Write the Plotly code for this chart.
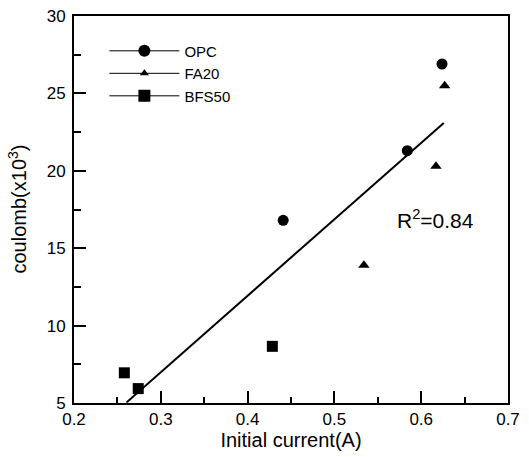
import numpy as np
import plotly.graph_objects as go

# Data
opc_x = [0.441, 0.584, 0.624]
opc_y = [16.8, 21.3, 26.9]
fa20_x = [0.534, 0.617, 0.627]
fa20_y = [13.9, 20.3, 25.5]
bfs50_x = [0.258, 0.274, 0.4285]
bfs50_y = [6.95, 5.93, 8.66]
fit_range = [0.2605, 0.626]
r2_label = "R<sup>2</sup>=0.84"
x_title = "Initial current(A)"
y_title = "coulomb(x10<sup>3</sup>)"

all_x = np.array(opc_x + fa20_x + bfs50_x)
all_y = np.array(opc_y + fa20_y + bfs50_y)
slope, intercept = np.polyfit(all_x, all_y, 1)
fit_x = np.array(fit_range)
fit_y = slope * fit_x + intercept

FONT = "Liberation Sans, Arial, sans-serif"

fig = go.Figure()
series = [
    ("OPC", opc_x, opc_y, "circle", 11, 12),
    ("FA20", fa20_x, fa20_y, "triangle-up", 10, 8),
    ("BFS50", bfs50_x, bfs50_y, "square", 11, 12),
]
for name, xs, ys, sym, sz, lsz in series:
    fig.add_trace(go.Scatter(x=xs, y=ys, mode="markers", name=name, showlegend=False,
                             marker=dict(symbol=sym, size=sz, color="black")))
fig.add_trace(go.Scatter(x=fit_x, y=fit_y, mode="lines", showlegend=False,
                         line=dict(color="black", width=2)))
for name, xs, ys, sym, sz, lsz in series:
    fig.add_trace(go.Scatter(x=[None], y=[None], mode="lines+markers", name=name,
                             marker=dict(symbol=sym, size=lsz, color="black"),
                             line=dict(color="black", width=1)))

fig.add_annotation(x=0.617, y=16.9, text=r2_label, showarrow=False,
                   font=dict(size=21, color="black", family=FONT))
fig.add_annotation(xref="paper", yref="paper", x=0, y=0.5, xshift=-57,
                   text=y_title, textangle=-90, showarrow=False,
                   xanchor="center", yanchor="middle",
                   font=dict(size=20, color="black", family=FONT))

axis_common = dict(showline=True, linecolor="black", linewidth=2, mirror=True,
                   ticks="inside", tickcolor="black", tickwidth=1.5, ticklen=12,
                   showgrid=False, zeroline=False, automargin=False,
                   tickfont=dict(size=17, color="black", family=FONT))
fig.update_xaxes(range=[0.2, 0.7], dtick=0.1, tickformat=".1f",
                 minor=dict(dtick=0.05, ticks="inside", ticklen=6, tickcolor="black", tickwidth=1.5),
                 title=dict(text=x_title, font=dict(size=20, color="black", family=FONT), standoff=0),
                 **axis_common)
fig.update_yaxes(range=[5, 30], dtick=5,
                 minor=dict(dtick=2.5, ticks="inside", ticklen=7, tickcolor="black", tickwidth=1.5),
                 ticklabelstandoff=3,
                 **axis_common)

fig.update_layout(
    width=529, height=457,
    margin=dict(l=74, r=21, t=16, b=54),
    plot_bgcolor="white", paper_bgcolor="white",
    font=dict(family=FONT, color="black"),
    legend=dict(x=0.07, y=0.952, xanchor="left", yanchor="top",
                bgcolor="rgba(0,0,0,0)", itemwidth=70,
                font=dict(size=15, color="black", family=FONT), tracegroupgap=0),
)

# remove the browser's default 8px body margin so the figure fills the window exactly
fig.write_html("out.html", config={"displayModeBar": False},
               post_script="document.body.style.margin='0';")
